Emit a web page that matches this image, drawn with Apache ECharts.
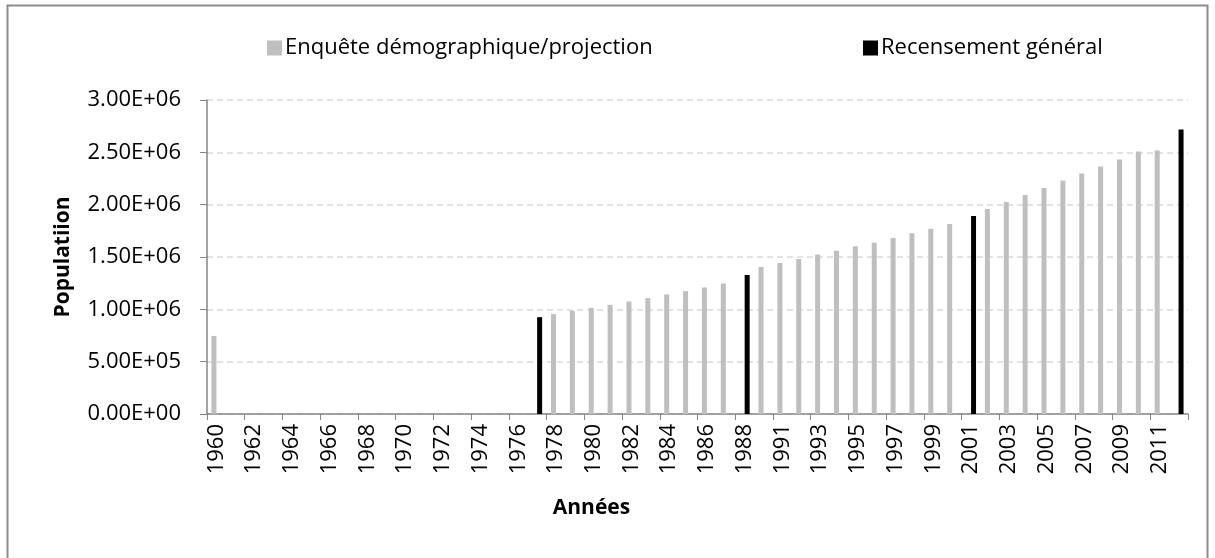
<!DOCTYPE html>
<html>
<head>
<meta charset="utf-8">
<script src="https://cdn.jsdelivr.net/npm/echarts@6/dist/echarts.min.js"></script>
<style>
  html, body { margin: 0; padding: 0; background: #fff; }
  #chart { width: 1215px; height: 558px; }
</style>
</head>
<body>
<div id="chart"></div>
<script>
// years on the category axis (1989 is absent from the source table)
const years = [
  '1960', '1961', '1962', '1963', '1964', '1965', '1966', '1967', '1968', '1969',
  '1970', '1971', '1972', '1973', '1974', '1975', '1976', '1977', '1978', '1979',
  '1980', '1981', '1982', '1983', '1984', '1985', '1986', '1987', '1988', '1990',
  '1991', '1992', '1993', '1994', '1995', '1996', '1997', '1998', '1999', '2000',
  '2001', '2002', '2003', '2004', '2005', '2006', '2007', '2008', '2009', '2010',
  '2011', '2012'
];

// Enquête démographique/projection
const enquete = [
  746000, null, null, null, null, null, null, null, null, null,
  null, null, null, null, null, null, null, null, 954000, 986000,
  1014000, 1043000, 1075000, 1107000, 1142000, 1174000, 1209000, 1247000, null, 1405000,
  1442000, 1480000, 1523000, 1560000, 1603000, 1636000, 1681000, 1726000, 1770000, 1815000,
  null, 1959000, 2026000, 2093000, 2160000, 2230000, 2297000, 2364000, 2431000, 2507000,
  2517000, null
];

// Recensement général
const recensement = [
  null, null, null, null, null, null, null, null, null, null,
  null, null, null, null, null, null, null, 925000, null, null,
  null, null, null, null, null, null, null, null, 1328000, null,
  null, null, null, null, null, null, null, null, null, null,
  1892000, null, null, null, null, null, null, null, null, null,
  null, 2718000
];

const seriesNames = ['Enquête démographique/projection', 'Recensement général'];

function sci(v) {
  if (v === 0) return '0.00E+00';
  const e = Math.floor(Math.log10(v));
  const m = (v / Math.pow(10, e)).toFixed(2);
  return m + 'E' + (e < 0 ? '-' : '+') + String(Math.abs(e)).padStart(2, '0');
}

const font = '"Open Sans", "Noto Sans", sans-serif';
const axisGrey = '#868686';

const legendBase = {
  top: 32,
  itemWidth: 15,
  itemHeight: 15,
  icon: 'rect',
  textStyle: { fontFamily: font, fontSize: 22, color: '#000', padding: [0, 0, 0, -2] }
};

const chart = echarts.init(document.getElementById('chart'));

chart.setOption({
  backgroundColor: '#fff',
  animation: false,
  textStyle: { fontFamily: font },
  graphic: [{
    type: 'rect',
    shape: { x: 7.5, y: 5.5, width: 1200, height: 600 },
    style: { fill: 'none', stroke: '#8c8c8c', lineWidth: 2 },
    silent: true
  }],
  legend: [
    Object.assign({ left: 262, data: [seriesNames[0]] }, legendBase),
    Object.assign({ left: 858, data: [seriesNames[1]] }, legendBase)
  ],
  grid: {
    left: 207,
    right: 27,
    top: 100,
    bottom: 144
  },
  xAxis: {
    type: 'category',
    data: years,
    name: 'Années',
    nameLocation: 'middle',
    nameGap: 84,
    nameTextStyle: {
      fontFamily: font, fontSize: 21, fontWeight: 'bold', color: '#000',
      padding: [0, 212, 0, 0]
    },
    axisLine: { lineStyle: { color: axisGrey, width: 1.5 } },
    axisTick: { show: true, length: 6, lineStyle: { color: axisGrey } },
    axisLabel: {
      interval: 1,
      rotate: 90,
      margin: 10,
      fontFamily: font,
      fontSize: 22,
      color: '#000'
    }
  },
  yAxis: {
    type: 'value',
    min: 0,
    max: 3000000,
    interval: 500000,
    name: 'Populatiion',
    nameLocation: 'middle',
    nameGap: 133,
    nameRotate: 90,
    nameTextStyle: { fontFamily: font, fontSize: 21, fontWeight: 'bold', color: '#000' },
    axisLine: { show: true, lineStyle: { color: axisGrey, width: 1.5 } },
    axisTick: { show: true, length: 7, lineStyle: { color: axisGrey } },
    axisLabel: {
      margin: 26,
      fontFamily: font,
      fontSize: 22,
      color: '#000',
      formatter: sci
    },
    splitLine: { lineStyle: { color: '#d9d9d9', type: [6, 4], width: 1.5 } }
  },
  series: [
    {
      name: seriesNames[0],
      type: 'bar',
      data: enquete,
      barWidth: 5,
      barGap: '0%',
      itemStyle: { color: '#bfbfbf' }
    },
    {
      name: seriesNames[1],
      type: 'bar',
      data: recensement,
      barWidth: 5,
      barGap: '0%',
      itemStyle: { color: '#000000' }
    }
  ]
});
</script>
</body>
</html>
